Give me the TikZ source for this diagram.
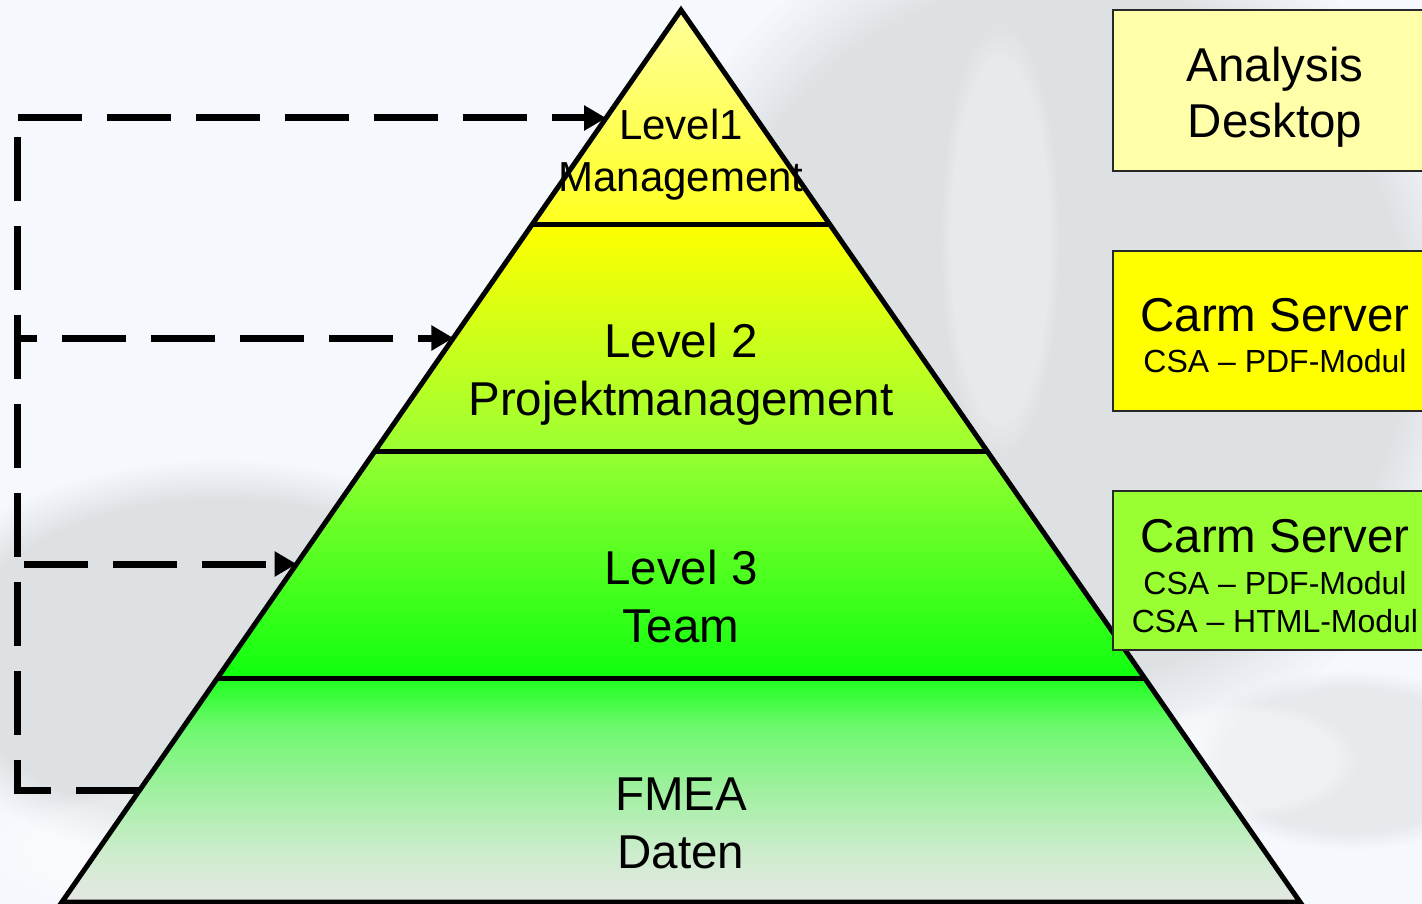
\documentclass[tikz,border=0pt]{standalone}
\usepackage{fontspec}
\setmainfont{Liberation Sans}
\usetikzlibrary{arrows.meta,fadings,calc}
\definecolor{bgc}{RGB}{245,249,253}
\definecolor{wm}{RGB}{150,150,150}
\definecolor{lAtop}{RGB}{255,255,155}
\definecolor{lAbot}{RGB}{255,255,30}
\definecolor{lBtop}{RGB}{255,255,0}
\definecolor{lBbot}{RGB}{155,255,51}
\definecolor{lCtop}{RGB}{150,255,50}
\definecolor{lCbot}{RGB}{15,255,15}
\definecolor{lDtop}{RGB}{30,255,30}
\definecolor{lDa}{RGB}{110,248,110}
\definecolor{lDmid}{RGB}{160,240,160}
\definecolor{lDb}{RGB}{205,236,205}
\definecolor{lDbot}{RGB}{230,232,228}
\definecolor{boxA}{RGB}{255,255,170}
\definecolor{boxB}{RGB}{255,255,0}
\definecolor{boxC}{RGB}{153,255,51}
\definecolor{boxline}{RGB}{40,40,40}
\pgfdeclareverticalshading{fmeashade}{100bp}{color(0bp)=(lDbot); color(25bp)=(lDbot); color(36bp)=(lDb); color(50bp)=(lDmid); color(64bp)=(lDa); color(75bp)=(lDtop); color(100bp)=(lDtop)}
\tikzset{
  big/.style={font=\fontsize{47.5}{57}\selectfont, anchor=base, inner sep=0pt},
  mid/.style={font=\fontsize{42}{50}\selectfont, anchor=base, inner sep=0pt},
  small/.style={font=\fontsize{32}{38}\selectfont, anchor=base, inner sep=0pt},
  infobox/.style={draw=boxline, line width=2pt, minimum width=330pt, inner sep=0pt},
  pyr/.style={line width=5pt, line join=miter},
  link/.style={line width=7pt, dash pattern=on 64pt off 25pt},
  linkarrow/.style={link, -{Triangle[length=22pt,width=24pt]}},
}
\begin{document}
\begin{tikzpicture}[x=1pt,y=-1pt]
\useasboundingbox (0,0) rectangle (1422,904);
\clip (0,0) rectangle (1422,904);
\fill[bgc] (0,0) rectangle (1422,904);
% faint watermark
\fill[wm, opacity=0.24, path fading=circle with fuzzy edge 20 percent] (1060,330) ellipse (430 and 430);
\fill[wm, opacity=0.24, path fading=circle with fuzzy edge 20 percent] (220,660) ellipse (330 and 200);
\fill[wm, opacity=0.15, path fading=circle with fuzzy edge 20 percent] (1350,760) ellipse (160 and 90);
\fill[white, opacity=0.35, path fading=circle with fuzzy edge 20 percent] (1240,760) ellipse (120 and 60);
\fill[white, opacity=0.3, path fading=circle with fuzzy edge 20 percent] (200,850) ellipse (220 and 70);
\fill[white, opacity=0.3, path fading=circle with fuzzy edge 20 percent] (1000,240) ellipse (60 and 220);

% pyramid corners
\coordinate (A) at (681,10);
\coordinate (BL) at (62,902);
\coordinate (BR) at (1300,902);
% layer fills
\shade[top color=lAtop, bottom color=lAbot] (A) -- (830.2,225) -- (531.8,225) -- cycle;
\shade[top color=lBtop, bottom color=lBbot] (531.8,225) -- (830.2,225) -- (987,451) -- (375,451) -- cycle;
\shade[top color=lCtop, bottom color=lCbot] (375,451) -- (987,451) -- (1144.6,678) -- (217.4,678) -- cycle;
\shade[shading=fmeashade] (217.4,678) -- (1144.6,678) -- (BR) -- (BL) -- cycle;
% outline
\draw[pyr] (A) -- (BR) -- (BL) -- cycle;
\draw[pyr] (531.8,225) -- (830.2,225);
\draw[pyr] (375,451) -- (987,451);
\draw[pyr] (217.4,678) -- (1144.6,678);

% layer texts
\node[mid] (l1a) at (681,140) {Level1};
\node[mid] (l1b) at (681,192) {Management};
\node[big] (l2a) at (681,357) {Level 2};
\node[big] (l2b) at (681,415) {Projektmanagement};
\node[big] (l3a) at (681,584) {Level 3};
\node[big] (l3b) at (681,642) {Team};
\node[big] (l4a) at (681,810) {FMEA};
\node[big] (l4b) at (681,868) {Daten};

% right boxes
\node[infobox, fill=boxA, minimum height=161pt] (b1) at (1278,90.5) {};
\node[infobox, fill=boxB, minimum height=160pt] (b2) at (1278,331) {};
\node[infobox, fill=boxC, minimum height=159pt] (b3) at (1278,570.5) {};
\node[big] (b1a) at (1275,82) {Analysis};
\node[big] (b1b) at (1275,138) {Desktop};
\node[big] (b2a) at (1275,331) {Carm Server};
\node[small] (b2b) at (1275,372) {CSA – PDF-Modul};
\node[big] (b3a) at (1275,552) {Carm Server};
\node[small] (b3b) at (1275,594) {CSA – PDF-Modul};
\node[small] (b3c) at (1275,632) {CSA – HTML-Modul};

% dashed connectors
\coordinate (e1) at (606.1,118);
\coordinate (e2) at (453.4,338);
\coordinate (e3) at (296.6,564);
\coordinate (e4) at (139.7,790);
\coordinate (c1) at (17,118);
\coordinate (c2) at (17,338);
\coordinate (c3) at (17,564);
\coordinate (c4) at (17,790);
\coordinate (s1) at (18,118);
\coordinate (s3) at (24,564);
\draw[link] (e4) -- (c4) -- (c1);
\draw[linkarrow] (s1) -- (e1);
\draw[linkarrow, dash phase=44pt] (c2) -- (e2);
\draw[linkarrow] (s3) -- (e3);
\end{tikzpicture}
\end{document}
